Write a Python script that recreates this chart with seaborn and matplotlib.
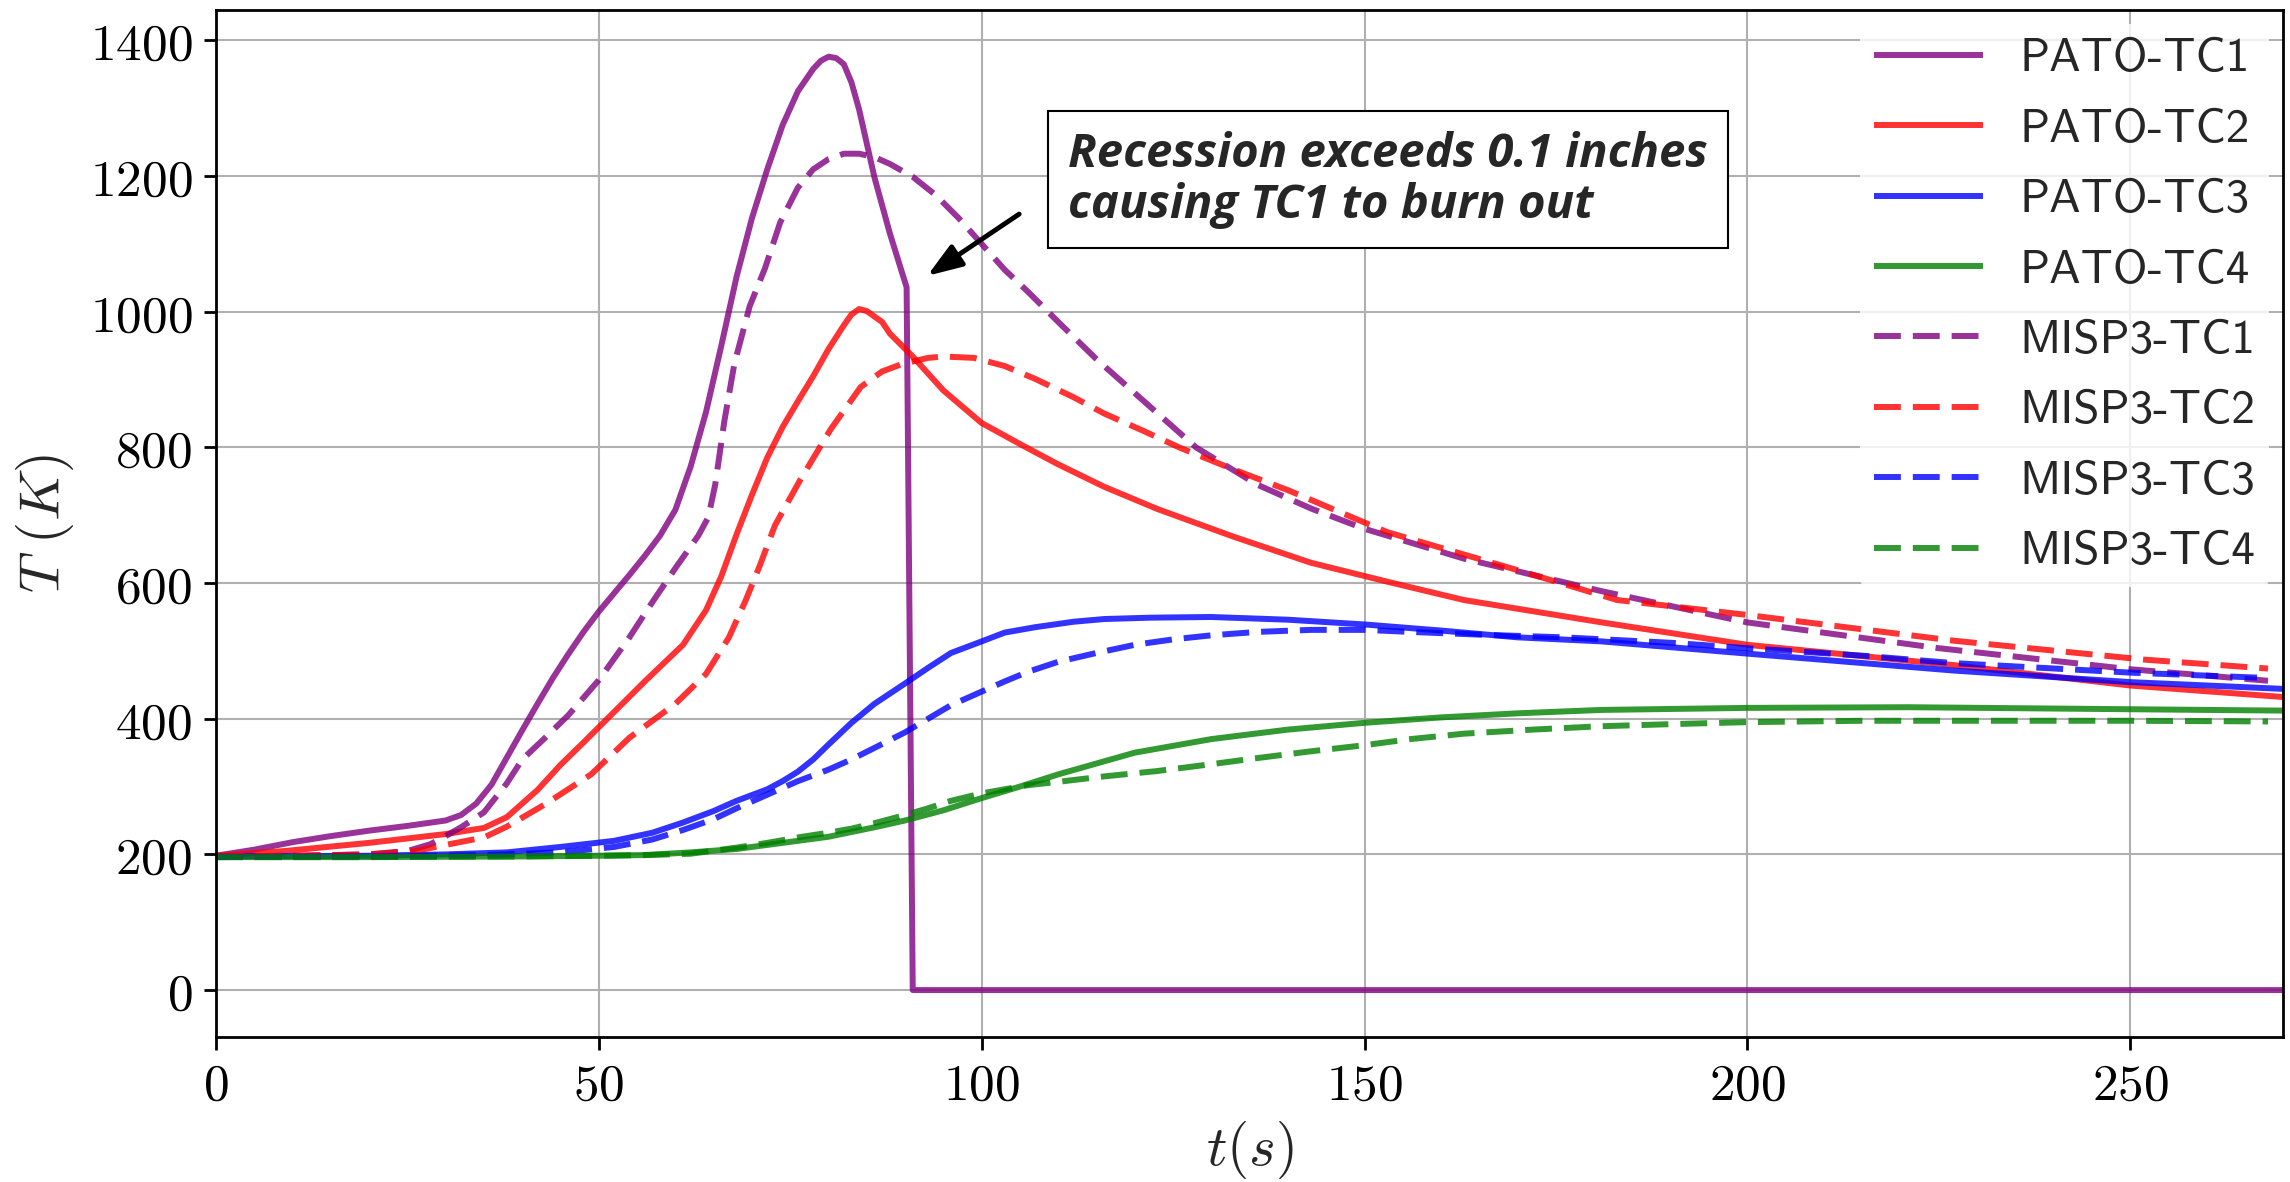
import matplotlib
matplotlib.use("Agg")
import os
import matplotlib.pyplot as plt
from matplotlib.font_manager import FontProperties
from matplotlib.ticker import FuncFormatter
import seaborn as sns

# thermocouple temperature histories (time in s, T in K)
t_pato1 = [0, 5, 10, 15, 20, 25, 30, 32, 34, 36, 38, 40, 42, 44, 46, 48, 50, 52, 54, 56, 58, 60,
           62, 64, 66, 68, 70, 72, 74, 76, 78, 79, 80, 81, 82, 83, 84, 86, 88, 90.2, 91, 270]
T_pato1 = [198, 207, 218, 227, 235, 242, 250, 258, 275, 303, 343, 383, 422, 460, 495, 528, 558, 585,
           612, 640, 670, 708, 772, 852, 950, 1052, 1138, 1210, 1275, 1325, 1358, 1370, 1376, 1374,
           1365, 1338, 1298, 1198, 1116, 1036, 0, 0]

t_pato2 = [0, 9, 20, 30, 35, 38, 40, 42, 45, 48, 52, 56, 61, 64, 66, 68, 70, 72, 74, 76, 78, 80, 82,
           83, 84, 85, 87, 88, 91, 95, 100, 105, 110, 116, 123, 133, 143, 153, 163, 181, 200, 227,
           250, 270]
T_pato2 = [198, 205, 217, 230, 239, 255, 275, 295, 332, 365, 410, 455, 509, 560, 610, 672, 730, 785,
           830, 868, 905, 945, 980, 996, 1004, 1001, 985, 968, 934, 884, 836, 805, 775, 742, 709, 668,
           630, 602, 575, 542, 509, 479, 449, 432]

t_pato3 = [0, 20, 30, 38, 45, 52, 57, 61, 65, 68, 72, 74, 76, 78, 80, 83, 86, 90, 93, 96, 100, 103,
           107, 112, 116, 122, 130, 140, 150, 160, 170, 181, 200, 227, 250, 270]
T_pato3 = [197, 198, 200, 203, 211, 220, 232, 247, 264, 279, 296, 308, 322, 340, 362, 394, 422, 452,
           475, 497, 514, 527, 535, 543, 547, 549, 550, 546, 539, 530, 520, 514, 496, 471, 454, 444]

t_pato4 = [0, 20, 40, 50, 56, 62, 68, 72, 76, 80, 83, 86, 90, 95, 100, 105, 110, 115, 120, 125, 130,
           140, 150, 160, 170, 181, 200, 221, 250, 270]
T_pato4 = [196, 196, 197, 198, 199, 203, 208, 214, 220, 226, 233, 240, 250, 265, 283, 300, 318, 334,
           350, 360, 370, 384, 394, 402, 408, 413, 416, 417, 414, 412]

t_misp1 = [0, 10, 20, 25, 28, 30, 32, 35, 38, 40, 43, 46, 50, 54, 57, 60, 63, 64.3, 65.2, 66.4, 67.7,
           69.7, 71.7, 73.7, 76, 78, 80, 82, 84, 86, 88, 91, 94, 97, 100, 103, 106, 110, 115, 120,
           128, 136, 143, 150, 163, 181, 200, 225, 250, 268]
T_misp1 = [197, 198, 200, 205, 215, 227, 240, 262, 305, 340, 372, 405, 457, 520, 572, 622, 670, 697,
           745, 839, 923, 1008, 1064, 1132, 1183, 1210, 1225, 1233, 1233, 1228, 1218, 1199, 1172,
           1138, 1100, 1062, 1030, 985, 930, 880, 800, 745, 710, 680, 636, 588, 542, 504, 473, 456]

t_misp2 = [0, 10, 20, 26, 30, 35, 38, 43, 49, 54, 60, 64, 67, 69.2, 71, 73, 76.3, 80.3, 84.2, 87,
           89.6, 93, 95, 99, 103, 107, 112, 116, 121, 126, 133, 140, 153, 170, 183, 200, 227, 252, 268]
T_misp2 = [197, 198, 200, 205, 214, 225, 241, 274, 318, 372, 422, 466, 520, 575, 625, 685, 752, 827,
           889, 912, 923, 932, 934, 932, 920, 901, 874, 850, 825, 799, 767, 737, 675, 619, 575, 553,
           515, 487, 474]

t_misp3 = [0, 20, 35, 45, 52, 57, 61, 65, 68, 72, 76, 80, 83, 86, 90, 93, 96, 100, 103, 106, 110,
           115, 120, 125, 130, 136, 143, 150, 156, 165, 176, 190, 200, 215, 227, 250, 268]
T_misp3 = [196, 197, 199, 203, 211, 222, 236, 252, 268, 288, 308, 325, 340, 357, 380, 400, 420, 440,
           455, 469, 484, 497, 509, 517, 523, 528, 531, 531, 528, 524, 520, 512, 504, 493, 482, 468, 460]

t_misp4 = [0, 20, 40, 50, 56, 62, 68, 72, 76, 80, 83, 86, 90, 93, 96, 100, 103, 106, 110, 116, 123,
           130, 136, 143, 150, 156, 163, 172, 181, 190, 200, 215, 227, 250, 268]
T_misp4 = [196, 196, 197, 198, 199, 201, 210, 217, 225, 232, 238, 246, 258, 268, 279, 290, 296, 302,
           307, 315, 323, 333, 342, 352, 361, 370, 378, 384, 389, 392, 395, 397, 397, 397, 396]

labels = ["PATO-TC1", "PATO-TC2", "PATO-TC3", "PATO-TC4",
          "MISP3-TC1", "MISP3-TC2", "MISP3-TC3", "MISP3-TC4"]
colors = ["purple", "red", "blue", "green"] * 2
series = [(t_pato1, T_pato1), (t_pato2, T_pato2), (t_pato3, T_pato3), (t_pato4, T_pato4),
          (t_misp1, T_misp1), (t_misp2, T_misp2), (t_misp3, T_misp3), (t_misp4, T_misp4)]

sns.set_style("ticks")
plt.rcParams.update({
    "mathtext.fontset": "cm",
    "axes.linewidth": 2.0,
    "axes.edgecolor": "black",
    "xtick.major.size": 9,
    "ytick.major.size": 9,
    "xtick.major.width": 2.0,
    "ytick.major.width": 2.0,
    "xtick.color": "black",
    "ytick.color": "black",
    "lines.solid_capstyle": "butt",
})

fig, ax = plt.subplots(figsize=(22.9, 11.82), dpi=100)
fig.subplots_adjust(left=0.0943, right=0.9971, bottom=0.1229, top=0.9915)

for i, ((t, T), lab, c) in enumerate(zip(series, labels, colors)):
    ls = "-" if i < 4 else (0, (4.5, 2.0))
    sns.lineplot(x=t, y=T, ax=ax, color=c, linestyle=ls, lw=4.3, alpha=0.8,
                 label=lab, estimator=None, sort=False)

ax.set_xlim(0, 270)
ax.grid(True, color="#b0b0b0", lw=1.5)
ax.set_axisbelow(True)

fmt = FuncFormatter(lambda v, p: rf"${v:.0f}$")
ax.xaxis.set_major_formatter(fmt)
ax.yaxis.set_major_formatter(fmt)
ax.tick_params(axis="both", labelsize=37, pad=8)

ax.set_xlabel(r"$t(s)$", fontsize=41, labelpad=6)
ax.set_ylabel(r"$T\ (K)$", fontsize=41, labelpad=10)

ax.text(111.3, 1194.6, "Recession exceeds 0.1 inches\ncausing TC1 to burn out",
        ha="left", va="center", fontsize=34, family="Open Sans", weight="bold", style="italic",
        linespacing=1.1,
        bbox=dict(boxstyle="square,pad=0.42", fc="white", ec="black", lw=1.5))
ax.annotate("", xy=(92.9, 1053), xytext=(104.9, 1144),
            arrowprops=dict(arrowstyle="-|>,head_length=0.7,head_width=0.25", color="black",
                            lw=3.5, mutation_scale=30, shrinkA=0, shrinkB=0))

# computer modern sans ships with matplotlib
cmss = FontProperties(fname=os.path.join(matplotlib.get_data_path(), "fonts", "ttf", "cmss10.ttf"),
                      size=34)
leg = ax.legend(loc="upper right", prop=cmss,
                handlelength=2.3, handletextpad=0.77, borderpad=0.3, labelspacing=0.6,
                borderaxespad=0.3, frameon=True, fancybox=True, framealpha=0.8)
leg.get_frame().set_edgecolor("white")
leg.get_frame().set_linewidth(0)

fig.savefig("out.png", dpi=100)
